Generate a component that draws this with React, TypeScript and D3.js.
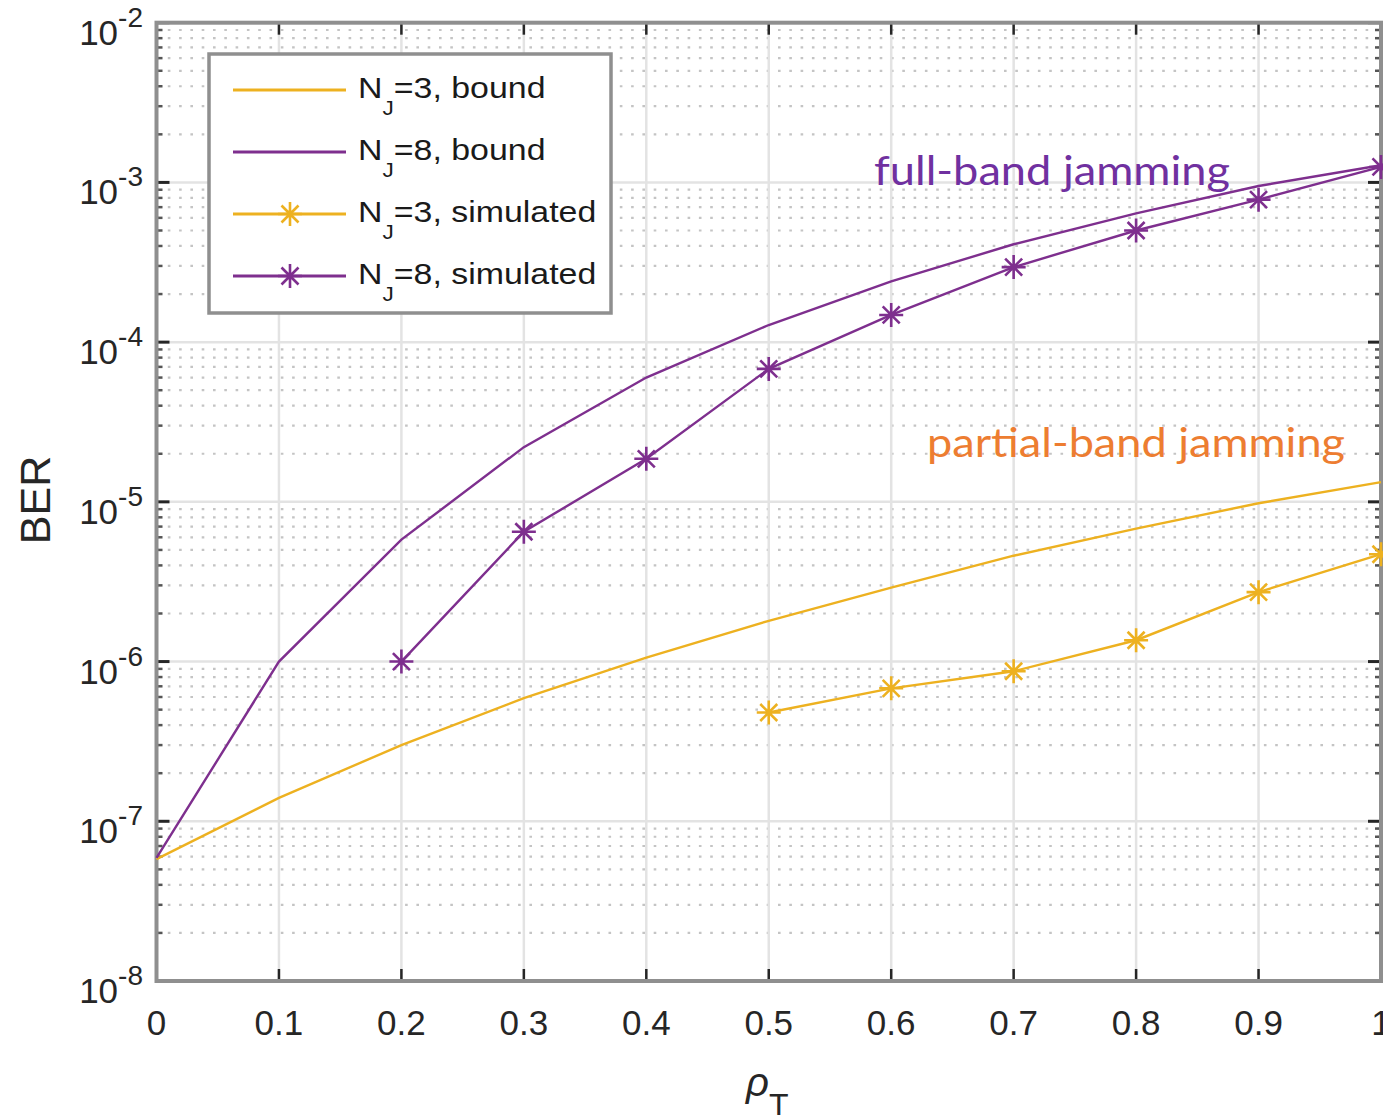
import React, { useEffect, useRef } from 'react';
import * as d3 from 'd3';

// rho_T values on the x axis
const rhoBound = [0, 0.1, 0.2, 0.3, 0.4, 0.5, 0.6, 0.7, 0.8, 0.9, 1.0];
const rhoSim3 = [0.5, 0.6, 0.7, 0.8, 0.9, 1.0];
const rhoSim8 = [0.2, 0.3, 0.4, 0.5, 0.6, 0.7, 0.8, 0.9, 1.0];

// BER values
const berBound3 = [5.8e-8, 1.4e-7, 3.0e-7, 5.9e-7, 1.06e-6, 1.8e-6, 2.9e-6, 4.6e-6, 6.8e-6, 9.8e-6, 1.33e-5];
const berBound8 = [5.9e-8, 1.0e-6, 5.8e-6, 2.2e-5, 6.0e-5, 1.28e-4, 2.4e-4, 4.1e-4, 6.4e-4, 9.5e-4, 1.28e-3];
const berSim3 = [4.8e-7, 6.8e-7, 8.7e-7, 1.36e-6, 2.72e-6, 4.7e-6];
const berSim8 = [1.0e-6, 6.5e-6, 1.86e-5, 6.8e-5, 1.48e-4, 2.95e-4, 5.0e-4, 7.8e-4, 1.25e-3];

const xTicks = [0, 0.1, 0.2, 0.3, 0.4, 0.5, 0.6, 0.7, 0.8, 0.9, 1];
const xTickLabels = ['0', '0.1', '0.2', '0.3', '0.4', '0.5', '0.6', '0.7', '0.8', '0.9', '1'];
const yExponents = [-8, -7, -6, -5, -4, -3, -2];

const legendLabels = ['=3, bound', '=8, bound', '=3, simulated', '=8, simulated'];

const YELLOW = '#EDB120';
const PURPLE = '#7E2F8E';

const App = () => {
  const ref = useRef<SVGSVGElement | null>(null);

  useEffect(() => {
    const svg = d3.select(ref.current);
    svg.selectAll('*').remove();

    const left = 156.5, right = 1381, top = 22.7, bottom = 981;
    const x = d3.scaleLinear().domain([0, 1]).range([left, right]);
    const y = d3.scaleLog().domain([1e-8, 1e-2]).range([bottom, top]);
    const font = 'Liberation Sans, Arial, sans-serif';

    // minor grid (dotted) on log axis
    const minorVals: number[] = [];
    yExponents.slice(0, -1).forEach(e => {
      for (let m = 2; m <= 9; m++) minorVals.push(m * Math.pow(10, e));
    });
    svg.append('g').selectAll('line').data(minorVals).join('line')
      .attr('x1', left).attr('x2', right)
      .attr('y1', d => y(d)).attr('y2', d => y(d))
      .attr('stroke', '#c4c4c4').attr('stroke-width', 2.2)
      .attr('stroke-dasharray', '2.6,8.7');

    // major grid
    svg.append('g').selectAll('line').data(xTicks).join('line')
      .attr('x1', d => x(d)).attr('x2', d => x(d))
      .attr('y1', top).attr('y2', bottom)
      .attr('stroke', '#e3e3e3').attr('stroke-width', 2.5);
    svg.append('g').selectAll('line').data(yExponents).join('line')
      .attr('x1', left).attr('x2', right)
      .attr('y1', d => y(Math.pow(10, d))).attr('y2', d => y(Math.pow(10, d)))
      .attr('stroke', '#e3e3e3').attr('stroke-width', 2.5);

    // ticks (inward, all four sides)
    const ticks = svg.append('g').attr('stroke', '#262626');
    xTicks.forEach(t => {
      ticks.append('line').attr('x1', x(t)).attr('x2', x(t)).attr('y1', bottom).attr('y2', bottom - 12).attr('stroke-width', 2.5);
      ticks.append('line').attr('x1', x(t)).attr('x2', x(t)).attr('y1', top).attr('y2', top + 12).attr('stroke-width', 2.5);
    });
    yExponents.forEach(e => {
      const yy = y(Math.pow(10, e));
      ticks.append('line').attr('x1', left).attr('x2', left + 13).attr('y1', yy).attr('y2', yy).attr('stroke-width', 3);
      ticks.append('line').attr('x1', right).attr('x2', right - 13).attr('y1', yy).attr('y2', yy).attr('stroke-width', 3);
    });
    minorVals.forEach(v => {
      const yy = y(v);
      ticks.append('line').attr('x1', left).attr('x2', left + 6).attr('y1', yy).attr('y2', yy).attr('stroke-width', 2.5).attr('stroke', '#555');
      ticks.append('line').attr('x1', right).attr('x2', right - 6).attr('y1', yy).attr('y2', yy).attr('stroke-width', 2.5).attr('stroke', '#555');
    });

    // axis box
    svg.append('rect')
      .attr('x', left).attr('y', top)
      .attr('width', right - left).attr('height', bottom - top)
      .attr('fill', 'none').attr('stroke', '#8f8f8f').attr('stroke-width', 4);

    // tick labels
    svg.append('g').selectAll('text').data(xTicks).join('text')
      .attr('x', d => x(d)).attr('y', 1035)
      .attr('text-anchor', 'middle')
      .attr('font-family', font).attr('font-size', 35).attr('fill', '#262626')
      .text((d, i) => xTickLabels[i]);

    yExponents.forEach(e => {
      const yy = y(Math.pow(10, e));
      const t = svg.append('text')
        .attr('x', 143).attr('y', yy + 22)
        .attr('text-anchor', 'end')
        .attr('font-family', font).attr('font-size', 35).attr('fill', '#262626');
      t.append('tspan').text('10');
      t.append('tspan').attr('dy', -18).attr('font-size', 28).text('-' + Math.abs(e));
    });

    // axis labels
    svg.append('text')
      .attr('transform', 'translate(50,500) rotate(-90)')
      .attr('text-anchor', 'middle')
      .attr('font-family', font).attr('font-size', 43).attr('fill', '#262626')
      .text('BER');
    const xl = svg.append('text')
      .attr('x', 746).attr('y', 1096)
      .attr('font-family', font).attr('font-size', 40).attr('fill', '#262626');
    xl.append('tspan').attr('font-style', 'italic').text('ρ');
    xl.append('tspan').attr('dy', 20).attr('font-size', 32).text('T');

    // series
    const line = d3.line<[number, number]>()
      .x(d => x(d[0]))
      .y(d => y(d[1]));
    const asterisk = 'M-12,0H12M0,-12V12M-8.5,-8.5L8.5,8.5M-8.5,8.5L8.5,-8.5';

    const series = [
      { xs: rhoBound, ys: berBound3, color: YELLOW, marker: false },
      { xs: rhoBound, ys: berBound8, color: PURPLE, marker: false },
      { xs: rhoSim3, ys: berSim3, color: YELLOW, marker: true },
      { xs: rhoSim8, ys: berSim8, color: PURPLE, marker: true },
    ];
    series.forEach(s => {
      const pts = s.xs.map((v, i) => [v, s.ys[i]] as [number, number]);
      svg.append('path')
        .attr('d', line(pts))
        .attr('fill', 'none').attr('stroke', s.color).attr('stroke-width', 2.4);
      if (s.marker) {
        svg.append('g').selectAll('path').data(pts).join('path')
          .attr('d', asterisk)
          .attr('transform', d => `translate(${x(d[0])},${y(d[1])})`)
          .attr('fill', 'none').attr('stroke', s.color).attr('stroke-width', 2.6);
      }
    });

    // legend
    const lg = svg.append('g');
    lg.append('rect')
      .attr('x', 209).attr('y', 54).attr('width', 402).attr('height', 259)
      .attr('fill', 'white').attr('stroke', '#8f8f8f').attr('stroke-width', 3.5);
    series.forEach((s, i) => {
      const ly = 90 + i * 62;
      lg.append('line')
        .attr('x1', 233).attr('x2', 346).attr('y1', ly).attr('y2', ly)
        .attr('stroke', s.color).attr('stroke-width', 3);
      if (s.marker) {
        lg.append('path').attr('d', asterisk)
          .attr('transform', `translate(290,${ly})`)
          .attr('fill', 'none').attr('stroke', s.color).attr('stroke-width', 2.6);
      }
      const t = lg.append('text')
        .attr('transform', `translate(358,${ly + 8}) scale(1.13,1)`)
        .attr('font-family', font).attr('font-size', 30).attr('fill', '#1a1a1a');
      t.append('tspan').text('N');
      t.append('tspan').attr('dy', 17).attr('font-size', 20).text('J');
      t.append('tspan').attr('dy', -17).text(legendLabels[i]);
    });

    // annotations
    svg.append('text')
      .attr('x', 874).attr('y', 185)
      .attr('font-family', 'Lato, Open Sans, sans-serif').attr('font-size', 41)
      .attr('fill', '#7030A0')
      .attr('textLength', 356).attr('lengthAdjust', 'spacingAndGlyphs')
      .text('full-band jamming');
    svg.append('text')
      .attr('x', 927).attr('y', 457)
      .attr('font-family', 'Lato, Open Sans, sans-serif').attr('font-size', 41)
      .attr('fill', '#ED7D31')
      .attr('textLength', 418).attr('lengthAdjust', 'spacingAndGlyphs')
      .text('partial-band jamming');
  }, []);

  return (
    <svg
      ref={ref}
      width={1383}
      height={1115}
      style={{ position: 'absolute', left: 0, top: 0, background: 'white' }}
    />
  );
};

export default App;
